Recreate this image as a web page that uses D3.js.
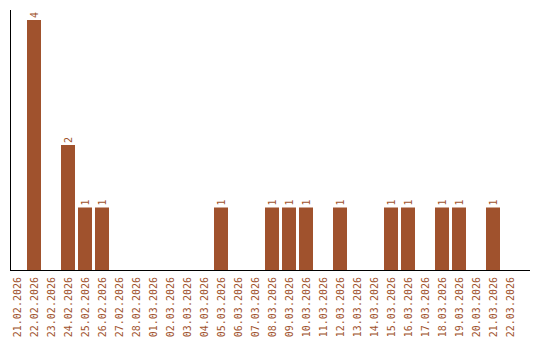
<!DOCTYPE html>
<html>
<head>
<meta charset="utf-8">
<script src="https://cdn.jsdelivr.net/npm/d3@7"></script>
<style>
  body { margin: 0; background: #fff; }
  text { font-family: "DejaVu Sans Mono", monospace; font-size: 10px; fill: #a0522d; }
</style>
</head>
<body>
<div id="chart"></div>
<script>
// Data
const dates = [
  "21.02.2026", "22.02.2026", "23.02.2026", "24.02.2026", "25.02.2026",
  "26.02.2026", "27.02.2026", "28.02.2026", "01.03.2026", "02.03.2026",
  "03.03.2026", "04.03.2026", "05.03.2026", "06.03.2026", "07.03.2026",
  "08.03.2026", "09.03.2026", "10.03.2026", "11.03.2026", "12.03.2026",
  "13.03.2026", "14.03.2026", "15.03.2026", "16.03.2026", "17.03.2026",
  "18.03.2026", "19.03.2026", "20.03.2026", "21.03.2026", "22.03.2026"
];
const counts = [0, 4, 0, 2, 1, 1, 0, 0, 0, 0, 0, 0, 1, 0, 0, 1, 1, 1, 0, 1, 0, 0, 1, 1, 0, 1, 1, 0, 1, 0];

const data = dates.map((d, i) => ({ date: d, count: counts[i] }));

const W = 540, H = 340;
const mLeft = 10, mBottom = 270, mTop = 10, mRight = 530;
const color = "#a0522d";

const svg = d3.select("#chart").append("svg")
  .attr("width", W)
  .attr("height", H);

// band step is 17px, bar 14px
const x = d3.scaleBand()
  .domain(dates)
  .range([mLeft, mLeft + 17 * 30 - 3])
  .paddingInner(3 / 17)
  .paddingOuter(0);

const y = d3.scaleLinear()
  .domain([0, 4])
  .range([mBottom, 20]);

// bars
svg.selectAll(".bar")
  .data(data.filter(d => d.count > 0))
  .enter().append("rect")
  .attr("class", "bar")
  .attr("x", d => x(d.date))
  .attr("y", d => y(d.count))
  .attr("width", x.bandwidth())
  .attr("height", d => mBottom - y(d.count))
  .attr("fill", color);

// value labels above bars
svg.selectAll(".val")
  .data(data.filter(d => d.count > 0))
  .enter().append("text")
  .attr("class", "val")
  .attr("transform", d => `translate(${x(d.date) + x.bandwidth() / 2 + 3.5},${y(d.count) - 2}) rotate(-90)`)
  .attr("text-anchor", "start")
  .text(d => d.count);

// x axis
const xAxis = d3.axisBottom(x).tickSize(0).tickPadding(0);
const gx = svg.append("g")
  .attr("transform", `translate(0,${mBottom})`)
  .call(xAxis);
gx.select(".domain").remove();
gx.selectAll("text")
  .attr("transform", "translate(3.5,7) rotate(-90)")
  .attr("x", 0)
  .attr("y", 0)
  .attr("dy", null)
  .attr("text-anchor", "end")
  .style("font-family", '"DejaVu Sans Mono", monospace')
  .style("font-size", "10px")
  .attr("fill", color);

// axis lines
svg.append("line")
  .attr("x1", mLeft).attr("x2", mRight)
  .attr("y1", mBottom + 0.5).attr("y2", mBottom + 0.5)
  .attr("stroke", "#000").attr("stroke-width", 1)
  .attr("shape-rendering", "crispEdges");
svg.append("line")
  .attr("x1", mLeft + 0.5).attr("x2", mLeft + 0.5)
  .attr("y1", mTop).attr("y2", mBottom)
  .attr("stroke", "#000").attr("stroke-width", 1)
  .attr("shape-rendering", "crispEdges");
</script>
</body>
</html>
